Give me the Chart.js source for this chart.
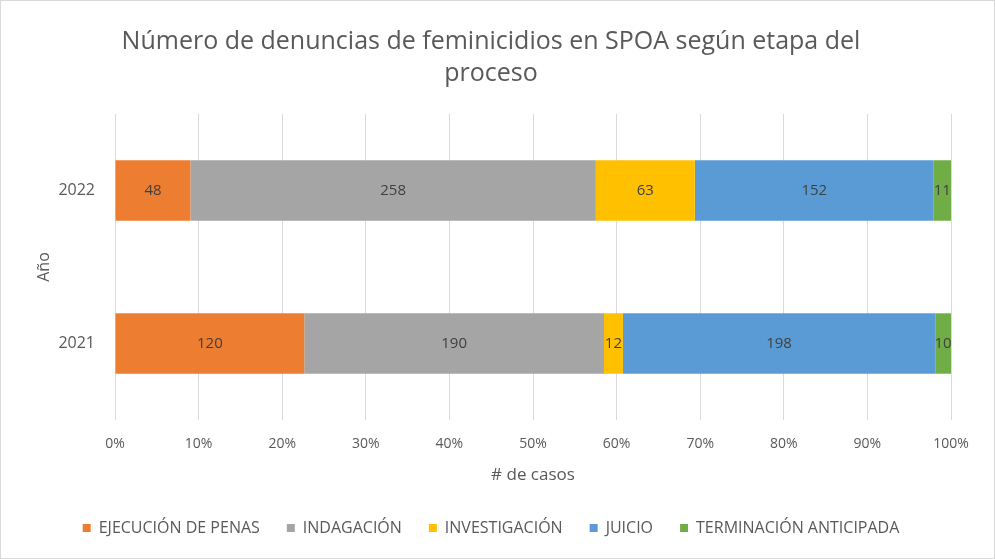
<!DOCTYPE html>
<html>
<head>
<meta charset="utf-8">
<script src="https://cdn.jsdelivr.net/npm/chart.js@4"></script>
<style>
  html, body { margin: 0; padding: 0; background: #ffffff; }
  #wrap { width: 993px; height: 557px; border: 1px solid #d9d9d9; }
</style>
</head>
<body>
<div id="wrap"><canvas id="stageChart" width="993" height="557"></canvas></div>
<script>
// años (de arriba hacia abajo) y etapas del proceso
const years = ['2022', '2021'];
const stages = ['EJECUCIÓN DE PENAS', 'INDAGACIÓN', 'INVESTIGACIÓN', 'JUICIO', 'TERMINACIÓN ANTICIPADA'];
const stageColors = ['#ED7D31', '#A5A5A5', '#FFC000', '#5B9BD5', '#70AD47'];

// número de casos por etapa, en el orden de years
const ejecucion = [48, 120];
const indagacion = [258, 190];
const investigacion = [63, 12];
const juicio = [152, 198];
const terminacion = [11, 10];

const counts = [ejecucion, indagacion, investigacion, juicio, terminacion];
const totals = years.map((y, i) => counts.reduce((s, c) => s + c[i], 0));

const FONT = '"Open Sans", sans-serif';

// etiquetas de datos centradas en cada segmento
const segmentLabels = {
    id: 'segmentLabels',
    afterDatasetsDraw(chart) {
        const ctx = chart.ctx;
        ctx.save();
        ctx.font = '15px ' + FONT;
        ctx.fillStyle = '#404040';
        ctx.textAlign = 'center';
        ctx.textBaseline = 'middle';
        chart.data.datasets.forEach((ds, d) => {
            chart.getDatasetMeta(d).data.forEach((bar, i) => {
                const x = (bar.x + bar.base) / 2;
                ctx.fillText(String(ds.raw[i]), x, bar.y);
            });
        });
        ctx.restore();
    }
};

const ctx = document.getElementById('stageChart').getContext('2d');
new Chart(ctx, {
    type: 'bar',
    data: {
        labels: years,
        datasets: stages.map((name, s) => ({
            label: name,
            raw: counts[s],
            data: counts[s].map((v, i) => v / totals[i] * 100),
            backgroundColor: stageColors[s],
            barPercentage: 0.395,
            categoryPercentage: 1.0
        }))
    },
    options: {
        indexAxis: 'y',
        responsive: false,
        animation: false,
        layout: { padding: { left: 30, right: 43, top: 10, bottom: 12 } },
        plugins: {
            title: {
                display: true,
                text: ['Número de denuncias de feminicidios en SPOA según etapa del', 'proceso'],
                color: '#595959',
                font: { family: FONT, size: 25, weight: 'normal', lineHeight: 1.28 },
                padding: { top: 15, bottom: 24 }
            },
            legend: {
                position: 'bottom',
                labels: {
                    color: '#595959',
                    font: { family: FONT, size: 16 },
                    boxWidth: 8,
                    boxHeight: 8,
                    padding: 27
                }
            },
            tooltip: { enabled: false }
        },
        scales: {
            x: {
                stacked: true,
                min: 0,
                max: 100,
                ticks: {
                    stepSize: 10,
                    color: '#595959',
                    font: { family: FONT, size: 14 },
                    padding: 16,
                    callback: v => v + '%'
                },
                grid: { color: '#D9D9D9', drawTicks: false },
                border: { display: false },
                title: {
                    display: true,
                    text: '# de casos',
                    color: '#595959',
                    font: { family: FONT, size: 17 },
                    padding: { top: 0, bottom: 8 }
                },
                afterFit: scale => { scale.height = 73; }
            },
            y: {
                stacked: true,
                ticks: {
                    color: '#595959',
                    font: { family: FONT, size: 16 },
                    padding: 12
                },
                grid: { display: false },
                border: { display: false },
                title: {
                    display: true,
                    text: 'Año',
                    color: '#595959',
                    font: { family: FONT, size: 16 }
                },
                afterFit: scale => { scale.width = 84; }
            }
        }
    },
    plugins: [segmentLabels]
});
</script>
</body>
</html>
